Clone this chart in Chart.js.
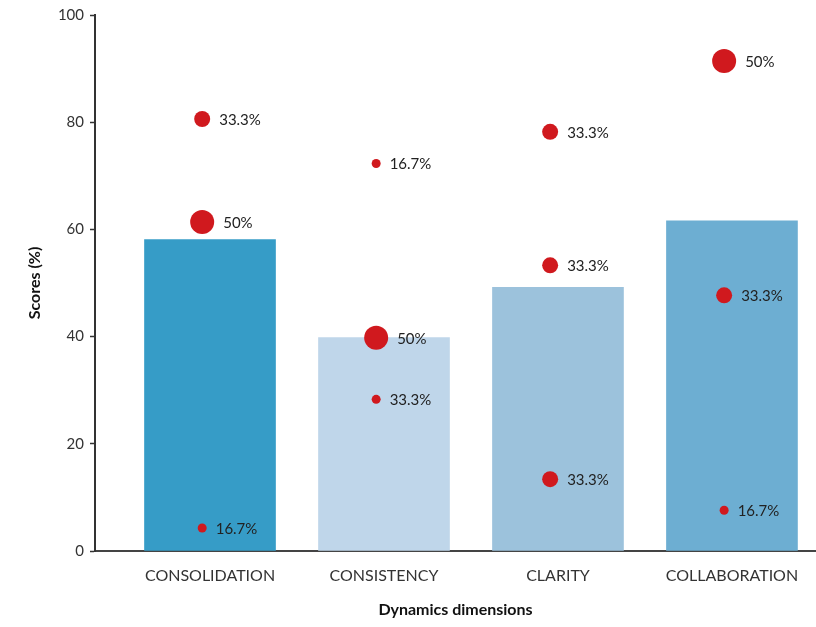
<!DOCTYPE html>
<html lang="en">
<head>
  <meta charset="UTF-8" />
  <title>Dynamics dimensions scores</title>
  <script src="https://cdn.jsdelivr.net/npm/chart.js"></script>
  <style>
    html, body {
      margin: 0;
      padding: 0;
      background: #fff;
    }
    canvas {
      display: block;
    }
  </style>
</head>
<body>
  <canvas id="scores" width="816" height="627"></canvas>

  <script>
    // Dimension bars
    const dimensions = ['CONSOLIDATION', 'CONSISTENCY', 'CLARITY', 'COLLABORATION'];
    const barScores = [58.1, 39.8, 49.2, 61.6];

    // Response dots: which dimension, the score, and the share of respondents
    const dotDimension = [0, 0, 0, 1, 1, 1, 2, 2, 2, 3, 3, 3];
    const dotScores = [80.6, 61.4, 4.3, 72.3, 39.8, 28.3, 78.2, 53.3, 13.4, 91.4, 47.7, 7.6];
    const dotShares = ['33.3', '50', '16.7', '16.7', '50', '33.3', '33.3', '33.3', '33.3', '50', '33.3', '16.7'];

    const yTicks = [0, 20, 40, 60, 80, 100];

    // styling
    const barColors = ['#369cc7', '#bfd6ea', '#9cc2dc', '#6daed2'];
    const dotRadius = [8, 12, 4.5, 4.5, 12, 4.5, 8, 8, 8, 12, 8, 4.5];
    const FONT = 'Lato, "Open Sans", sans-serif';

    // percentage labels to the right of each dot
    const dotLabels = {
      id: 'dotLabels',
      afterDatasetsDraw(chart) {
        const meta = chart.getDatasetMeta(0);
        const ctx = chart.ctx;
        ctx.save();
        ctx.font = '15px ' + FONT;
        ctx.fillStyle = '#222';
        ctx.textBaseline = 'middle';
        ctx.textAlign = 'left';
        meta.data.forEach((pt, i) => {
          ctx.fillText(dotShares[i] + '%', pt.x + dotRadius[i] + 9, pt.y + 1);
        });
        ctx.restore();
      }
    };

    new Chart(document.getElementById('scores').getContext('2d'), {
      data: {
        datasets: [
          {
            type: 'scatter',
            order: 0,
            data: dotScores.map((s, i) => ({ x: dotDimension[i] - 0.045, y: s })),
            backgroundColor: '#d0191e',
            borderWidth: 0,
            pointRadius: dotRadius,
            pointHoverRadius: dotRadius
          },
          {
            type: 'bar',
            order: 1,
            data: barScores.map((s, i) => ({ x: i, y: s })),
            backgroundColor: barColors,
            barThickness: 131
          }
        ]
      },
      options: {
        responsive: false,
        animation: false,
        layout: { autoPadding: false, padding: { top: 14, right: 0, left: 0, bottom: 0 } },
        plugins: {
          legend: { display: false },
          tooltip: { enabled: false }
        },
        scales: {
          x: {
            type: 'linear',
            min: -0.661,
            max: 3.483,
            offset: false,
            z: 1,
            afterBuildTicks(scale) {
              scale.ticks = dimensions.map((d, i) => ({ value: i }));
            },
            afterFit(scale) {
              scale.height = 76;
            },
            ticks: {
              autoSkip: false,
              maxRotation: 0,
              padding: 15,
              color: '#333',
              font: { family: FONT, size: 16 },
              callback: (v) => dimensions[v]
            },
            grid: { display: false, drawTicks: false, offset: false },
            border: { display: true, color: '#444', width: 2 },
            title: {
              display: true,
              text: 'Dynamics dimensions',
              color: '#111',
              font: { family: FONT, size: 16, weight: 'bold' },
              padding: { top: 4, bottom: 8 }
            }
          },
          y: {
            min: 0,
            max: 100,
            afterBuildTicks(scale) {
              scale.ticks = yTicks.map(v => ({ value: v }));
            },
            afterFit(scale) {
              scale.width = 95;
            },
            ticks: {
              padding: 6,
              color: '#333',
              font: { family: FONT, size: 15 }
            },
            grid: {
              drawOnChartArea: false,
              drawTicks: true,
              tickLength: 5,
              tickColor: '#333',
              tickWidth: 1.5
            },
            border: { display: true, color: '#333', width: 2 },
            title: {
              display: true,
              text: 'Scores (%)',
              color: '#111',
              font: { family: FONT, size: 16, weight: 'bold' },
              padding: { top: 25, bottom: 0 }
            }
          }
        }
      },
      plugins: [dotLabels]
    });
  </script>
</body>
</html>
